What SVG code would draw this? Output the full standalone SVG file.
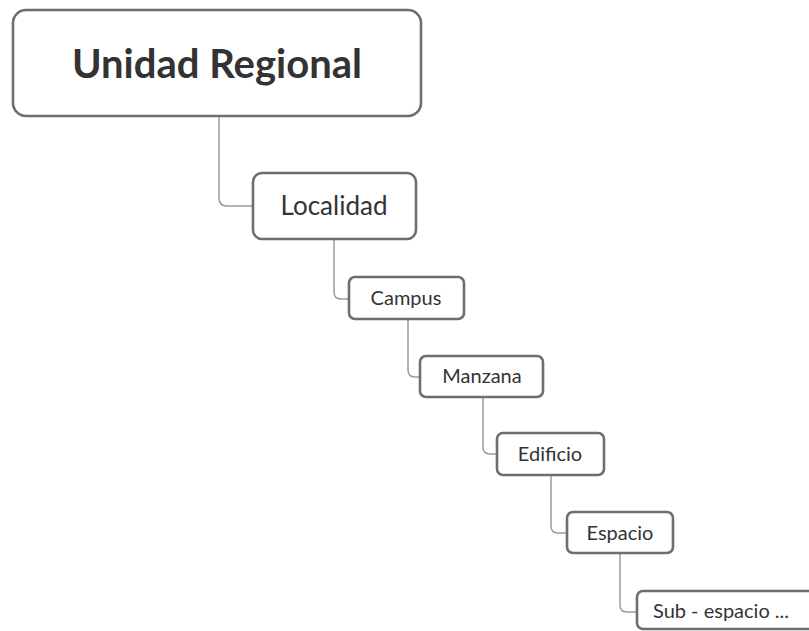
<svg xmlns="http://www.w3.org/2000/svg" width="809" height="631" viewBox="0 0 809 631">
<style>
.box{fill:#fff;stroke:#6e6e6e;stroke-width:2.6}
.lbl{font-family:Lato,"Open Sans","Liberation Sans",sans-serif;fill:#333;text-anchor:middle}
.sm{font-size:20px}
.con{fill:none;stroke:#9a9a9a;stroke-width:1.5}
</style>
<rect width="809" height="631" fill="#fff"/>
<g id="connectors">
<path class="con" d="M219,117 V198 Q219,206 227,206 H253"/>
<path class="con" d="M334,239 V292 Q334,299 341,299 H349"/>
<path class="con" d="M408,319 V370 Q408,377 415,377 H420"/>
<path class="con" d="M483,397 V447 Q483,454 490,454 H497"/>
<path class="con" d="M551,475 V526 Q551,533 558,533 H567"/>
<path class="con" d="M620,553 V605 Q620,612 627,612 H637"/>
</g>
<g id="unidad-regional">
<rect class="box" x="13" y="10" width="408" height="106" rx="13"/>
<text class="lbl" x="217" y="78" font-size="40" font-weight="bold" fill="#444">Unidad Regional</text>
</g>
<g id="localidad">
<rect class="box" x="253" y="173" width="163" height="66" rx="9"/>
<text class="lbl" x="334" y="215" font-size="26">Localidad</text>
</g>
<g id="campus">
<rect class="box" x="349" y="277" width="115" height="42" rx="6"/>
<text class="lbl sm" x="406" y="305">Campus</text>
</g>
<g id="manzana">
<rect class="box" x="420" y="356" width="123" height="41" rx="6"/>
<text class="lbl sm" x="482" y="383">Manzana</text>
</g>
<g id="edificio">
<rect class="box" x="497" y="433" width="107" height="42" rx="6"/>
<text class="lbl sm" x="550" y="461">Edificio</text>
</g>
<g id="espacio">
<rect class="box" x="567" y="512" width="106" height="41" rx="6"/>
<text class="lbl sm" x="620" y="540">Espacio</text>
</g>
<g id="sub-espacio">
<rect class="box" x="637" y="591" width="190" height="38" rx="6"/>
<text class="lbl sm" x="653" y="618" style="text-anchor:start">Sub - espacio ...</text>
</g>
</svg>
